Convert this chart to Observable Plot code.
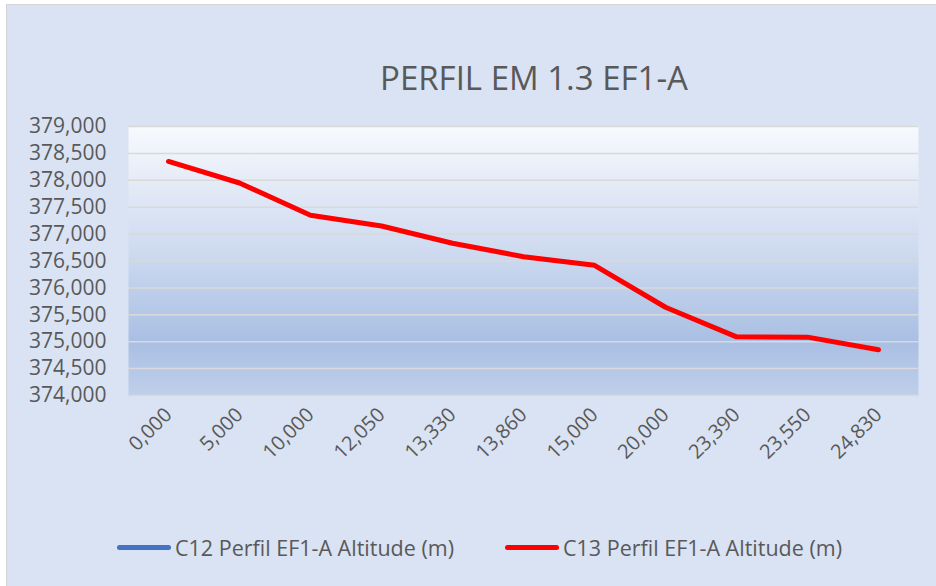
<!DOCTYPE html>
<html><head><meta charset="utf-8">
<script src="https://cdn.jsdelivr.net/npm/d3@7"></script>
<script src="https://cdn.jsdelivr.net/npm/@observablehq/plot@0.6"></script>
<style>
body{margin:0;background:#fff;font-family:"Open Sans",sans-serif;}
#wrap{position:relative;width:936px;height:586px;overflow:hidden;}
#frame{position:absolute;left:6px;top:4px;width:940px;height:600px;background:#dae3f3;border:1.5px solid #d4d4d4;box-sizing:border-box;}
#title{position:absolute;left:0;top:55px;width:1068px;text-align:center;font-size:33px;color:#595959;white-space:nowrap;}
#chart{position:absolute;left:0;top:0;}
.leg{position:absolute;top:533px;font-size:21.5px;color:#595959;white-space:nowrap;display:flex;align-items:center;}
.leg span.sw{display:inline-block;width:54px;height:5px;border-radius:3px;margin-right:4px;}
</style></head>
<body>
<div id="wrap">
  <div id="frame"></div>
  <div id="chart"></div>
  <div id="title">PERFIL EM 1.3 EF1-A</div>
  <div class="leg" id="leg1" style="left:117px"></div>
  <div class="leg" id="leg2" style="left:505px"></div>
</div>
<script>
const distances = ["0,000","5,000","10,000","12,050","13,330","13,860","15,000","20,000","23,390","23,550","24,830"];
const altitudes = [378350, 377950, 377350, 377150, 376830, 376580, 376420, 375640, 375090, 375085, 374850];
const yTicks = [374000, 374500, 375000, 375500, 376000, 376500, 377000, 377500, 378000, 378500, 379000];
const seriesNames = ["C12 Perfil EF1-A Altitude (m)", "C13 Perfil EF1-A Altitude (m)"];
const seriesColors = ["#4472c4", "#ff0000"];

const data = distances.map((d, i) => ({d, a: altitudes[i]}));

const chart = Plot.plot({
  width: 936,
  height: 480,
  marginTop: 126,
  marginLeft: 128,
  marginRight: 18,
  marginBottom: 85,
  style: {background: "transparent", fontFamily: "'Open Sans', sans-serif", color: "#595959", overflow: "visible"},
  x: {type: "point", domain: distances, padding: 0.5},
  y: {domain: [374000, 379000]},
  marks: [
    Plot.frame({fill: "url(#bgGrad)", stroke: null}),
    Plot.ruleY(yTicks, {stroke: "#d9d9d9", strokeWidth: 1.5}),
    Plot.axisY({ticks: yTicks, tickFormat: d3.format(","), tickSize: 0, tickPadding: 22, fontSize: 21, label: null}),
    Plot.axisX({tickSize: 0, tickRotate: -45, tickPadding: 16, fontSize: 20, label: null}),
    Plot.line(data, {x: "d", y: "a", stroke: seriesColors[1], strokeWidth: 5, strokeLinecap: "round", strokeLinejoin: "round"})
  ]
});
chart.insertAdjacentHTML("afterbegin",
  '<defs><linearGradient id="bgGrad" x1="0" y1="0" x2="0" y2="1">' +
  '<stop offset="0" stop-color="#f7f9fd"/>' +
  '<stop offset="0.45" stop-color="#cfdbf0"/>' +
  '<stop offset="0.8" stop-color="#a9bfe3"/>' +
  '<stop offset="1" stop-color="#bfcfea"/>' +
  '</linearGradient></defs>');
document.getElementById("chart").appendChild(chart);

[["leg1", 0], ["leg2", 1]].forEach(([id, i]) => {
  const el = document.getElementById(id);
  el.innerHTML = `<span class="sw" style="background:${seriesColors[i]}"></span><span>${seriesNames[i]}</span>`;
});
</script>
</body></html>
